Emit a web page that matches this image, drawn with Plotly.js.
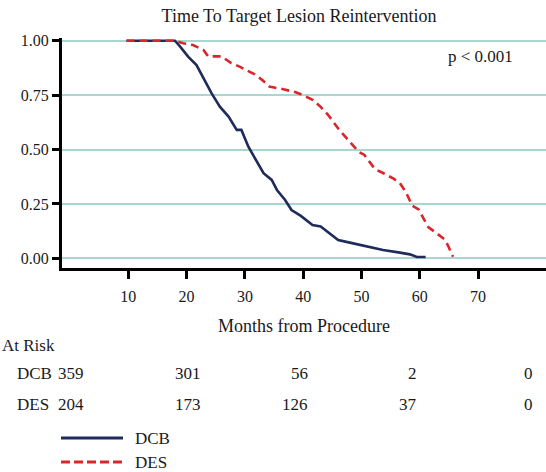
<!DOCTYPE html>
<html>
<head>
<meta charset="utf-8">
<script src="https://cdn.plot.ly/plotly-3.0.1.min.js"></script>
<style>
  html, body { margin: 0; padding: 0; background: #ffffff; }
  #chart { width: 546px; height: 472px; }
</style>
</head>
<body>
<div id="chart"></div>
<script>
// ---- data ----
const dcbMonths = [9.7, 18.0, 18.9, 20.3, 21.7, 22.9, 24.3, 25.7, 27.2, 28.6, 29.4, 30.6, 31.7, 33.2, 34.6, 35.5, 36.9, 38.0, 39.6, 41.6, 43.0, 44.4, 46.0, 48.0, 50.9, 53.7, 56.6, 58.3, 59.5, 61.0];
const dcbSurv   = [1.0, 1.0, 0.973, 0.926, 0.888, 0.827, 0.758, 0.697, 0.651, 0.590, 0.590, 0.513, 0.460, 0.391, 0.360, 0.314, 0.268, 0.222, 0.195, 0.153, 0.146, 0.115, 0.084, 0.072, 0.053, 0.038, 0.026, 0.018, 0.006, 0.006];

const desMonths = [9.7, 18.0, 19.4, 21.1, 22.9, 23.7, 26.0, 27.6, 29.0, 30.6, 31.7, 33.0, 34.2, 36.6, 38.6, 40.0, 41.7, 43.0, 44.4, 46.1, 48.0, 49.5, 50.5, 51.4, 52.3, 53.7, 55.5, 56.6, 57.6, 58.7, 59.8, 60.6, 61.5, 62.8, 64.3, 64.9, 65.7];
const desSurv   = [1.0, 1.0, 0.988, 0.980, 0.957, 0.928, 0.928, 0.898, 0.882, 0.862, 0.845, 0.819, 0.789, 0.777, 0.764, 0.750, 0.727, 0.696, 0.655, 0.593, 0.536, 0.490, 0.475, 0.440, 0.410, 0.392, 0.366, 0.345, 0.305, 0.242, 0.225, 0.185, 0.142, 0.117, 0.086, 0.055, 0.007];

const xTicks = [10, 20, 30, 40, 50, 60, 70];
const yTicks = [0, 0.25, 0.5, 0.75, 1.0];
const yTickText = ['0.00', '0.25', '0.50', '0.75', '1.00'];

const riskTimes = [0, 20, 40, 60, 80];
const riskDCB = [359, 301, 56, 2, 0];
const riskDES = [204, 173, 126, 37, 0];
const groups = ['DCB', 'DES'];

// ---- styling ----
const W = 546, H = 472;
const M = {l: 62, r: 0, t: 38, b: 204};
const plotH = H - M.t - M.b;
const plotW = W - M.l - M.r;
const FONT = 'Liberation Serif, Times New Roman, serif';
const NAVY = '#1f2b5b';
const RED = '#d8262b';
const GRID = '#a9d7d0';
const TXT = '#1a1a1a';
const riskColRight = [86, 203, 310, 419, 535];   // right edge (px) of each at-risk column
const rowY = [373, 404];
const legY = [438, 462];

function pxX(px) { return (px - M.l) / plotW; }
function pxY(py) { return (H - M.b - py) / plotH; }

const traces = [
  {x: dcbMonths, y: dcbSurv, type: 'scatter', mode: 'lines', name: groups[0],
   line: {color: NAVY, width: 2.6}, hoverinfo: 'skip'},
  {x: desMonths, y: desSurv, type: 'scatter', mode: 'lines', name: groups[1],
   line: {color: RED, width: 2.6, dash: '8px,5px'}, hoverinfo: 'skip'}
];

const annotations = [
  {text: 'p < 0.001', xref: 'paper', yref: 'paper', x: pxX(515), y: pxY(57),
   xanchor: 'right', yanchor: 'middle', showarrow: false, font: {family: FONT, size: 17, color: TXT}},
  {text: 'At Risk', xref: 'paper', yref: 'paper', x: pxX(0), y: pxY(345),
   xanchor: 'left', yanchor: 'middle', showarrow: false, font: {family: FONT, size: 17, color: TXT}}
];
const riskRows = [riskDCB, riskDES];
groups.forEach((g, gi) => {
  annotations.push({text: g, xref: 'paper', yref: 'paper', x: pxX(15), y: pxY(rowY[gi]),
    xanchor: 'left', yanchor: 'middle', showarrow: false, font: {family: FONT, size: 17, color: TXT}});
  riskTimes.forEach((t, ti) => {
    annotations.push({text: String(riskRows[gi][ti]), xref: 'paper', yref: 'paper',
      x: pxX(riskColRight[ti]), y: pxY(rowY[gi]), xanchor: 'right', yanchor: 'middle',
      showarrow: false, font: {family: FONT, size: 17, color: TXT}});
  });
});

// legend drawn below the table
const legStyles = [{color: NAVY, width: 2.8}, {color: RED, width: 2.8, dash: '9px,4px'}];
const shapes = [];
groups.forEach((g, gi) => {
  shapes.push({type: 'line', xref: 'paper', yref: 'paper', x0: pxX(61), x1: pxX(123),
    y0: pxY(legY[gi]), y1: pxY(legY[gi]), line: legStyles[gi]});
  annotations.push({text: g, xref: 'paper', yref: 'paper', x: pxX(133), y: pxY(legY[gi]),
    xanchor: 'left', yanchor: 'middle', showarrow: false, font: {family: FONT, size: 17, color: TXT}});
});

const layout = {
  width: W, height: H,
  margin: M,
  paper_bgcolor: '#ffffff', plot_bgcolor: '#ffffff',
  showlegend: false,
  title: {text: 'Time To Target Lesion Reintervention', x: 299 / W, xref: 'container',
          y: 1 - 16 / H, yref: 'container', xanchor: 'center', yanchor: 'middle',
          font: {family: FONT, size: 18, color: TXT}},
  xaxis: {
    range: [-1.37, 81.65], tickmode: 'array', tickvals: xTicks,
    showline: true, linecolor: '#000', linewidth: 3, mirror: false,
    ticks: 'outside', ticklen: 8, tickwidth: 3, tickcolor: '#000',
    ticklabelstandoff: 4,
    showgrid: false, zeroline: false,
    tickfont: {family: FONT, size: 16, color: TXT},
    title: {text: 'Months from Procedure', standoff: 16, font: {family: FONT, size: 18, color: TXT}},
    fixedrange: true
  },
  yaxis: {
    range: [(258.3 - 268) / 217.6, (258.3 - 38) / 217.6],
    tickmode: 'array', tickvals: yTicks, ticktext: yTickText,
    showline: true, linecolor: '#000', linewidth: 3,
    ticks: 'outside', ticklen: 7, tickwidth: 3, tickcolor: '#000',
    showgrid: true, gridcolor: GRID, gridwidth: 2, zeroline: false,
    tickfont: {family: FONT, size: 16, color: TXT},
    fixedrange: true
  },
  annotations: annotations,
  shapes: shapes
};

Plotly.newPlot('chart', traces, layout, {staticPlot: true, displayModeBar: false});
</script>
</body>
</html>
